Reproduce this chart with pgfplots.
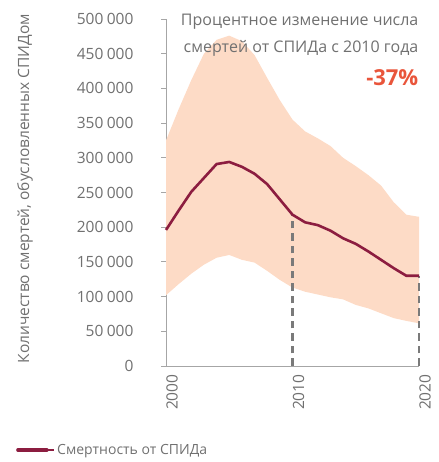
\documentclass[border=0pt]{standalone}
\usepackage{pgfplots}
\pgfplotsset{compat=1.18}
\usepgfplotslibrary{fillbetween}
\usepackage{fontspec}
\setmainfont{Open Sans}
\definecolor{bandc}{HTML}{FDDBC6}
\definecolor{linec}{HTML}{8C1D40}
\definecolor{pctc}{HTML}{E9553B}
\definecolor{txtc}{HTML}{707070}
\definecolor{axc}{HTML}{A6A6A6}
\definecolor{dashc}{HTML}{7A7A7A}
\begin{document}
\begin{tikzpicture}
\begin{axis}[
  scale only axis, width=253pt, height=347pt,
  at={(0,0)}, anchor=south west,
  xmin=2000, xmax=2020, ymin=0, ymax=500000,
  axis x line*=bottom, axis y line*=left,
  axis line style={axc, line width=0.9pt},
  xtick={2000,2010,2020},
  ytick={0,50000,...,500000},
  x tick style={draw=none},
  y tick style={axc, line width=0.9pt},
  tick align=outside, major tick length=5pt,
  scaled y ticks=false,
  /pgf/number format/assume math mode=true,
  /pgf/number format/.cd, fixed, precision=0, 1000 sep={\hspace{0.22em}},
  /pgfplots/.cd,
  xticklabel={\pgfmathprintnumber[1000 sep={}]{\tick}},
  ticklabel style={font=\fontsize{15.5}{18}\selectfont, text=txtc},
  yticklabel style={xshift=-24pt},
  xticklabel style={rotate=90, anchor=east, yshift=-6pt},
  legend style={draw=none, fill=none, at={(axis description cs:-0.593,-0.242)}, anchor=west, inner sep=0pt,
    font=\fontsize{14}{16}\selectfont, text=txtc},
  legend image code/.code={\draw[#1, line width=3.5pt, line cap=round] (0pt,0pt) -- (29pt,0pt); \path (0pt,0pt) -- (36pt,0pt);},
  clip=false,
]
\addplot[name path=up, draw=none, forget plot] coordinates {
(2000,325000) (2001,370000) (2002,412000) (2003,450000) (2004,470000) (2005,476000)
(2006,468000) (2007,448000) (2008,415000) (2009,383000) (2010,355000) (2011,338000)
(2012,328000) (2013,317000) (2014,300000) (2015,288000) (2016,275000) (2017,260000)
(2018,236000) (2019,218000) (2020,215000)};
\addplot[name path=lo, draw=none, forget plot] coordinates {
(2000,102000) (2001,118000) (2002,133000) (2003,146000) (2004,156000) (2005,160000)
(2006,153000) (2007,149000) (2008,137000) (2009,124000) (2010,113000) (2011,107000)
(2012,103000) (2013,99000) (2014,96000) (2015,88000) (2016,83000) (2017,76000)
(2018,69000) (2019,65000) (2020,61500)};
\addplot[bandc, draw=none, forget plot] fill between[of=up and lo];
\addplot[draw=dashc, line width=2.8pt, dash pattern=on 7.5pt off 5pt, forget plot] coordinates {(2010,0) (2010,218000)};
\addplot[draw=dashc, line width=2.8pt, dash pattern=on 7.5pt off 5pt, forget plot] coordinates {(2020,0) (2020,130000)};
\addplot[linec, line width=2.6pt, line join=round] coordinates {
(2000,196000) (2001,224000) (2002,251000) (2003,271000) (2004,291000) (2005,294000)
(2006,287000) (2007,277000) (2008,262000) (2009,240000) (2010,218000) (2011,207000)
(2012,203000) (2013,195000) (2014,184000) (2015,176000) (2016,165000) (2017,153000)
(2018,141000) (2019,130000) (2020,130000)};
\addlegendentry{Смертность от СПИДа}
\node[anchor=east, text=txtc, font=\fontsize{16}{18}\selectfont, inner sep=0pt] at (axis description cs:0.998,0.991) {Процентное изменение числа};
\node[anchor=east, text=txtc, font=\fontsize{16}{18}\selectfont, inner sep=0pt] at (axis description cs:0.998,0.916) {смертей от СПИДа с 2010 года};
\node[anchor=east, text=pctc, font=\fontsize{22}{26}\bfseries, inner sep=0pt] at (axis description cs:0.998,0.830) {-37\%};
\node[rotate=90, anchor=center, text=txtc, font=\fontsize{15.5}{18}\selectfont, inner sep=0pt] at (axis description cs:-0.557,0.511) {Количество смертей, обусловленных СПИДом};
\end{axis}
\path (-166pt,-96pt) rectangle (272pt,366pt);
\end{tikzpicture}
\end{document}
